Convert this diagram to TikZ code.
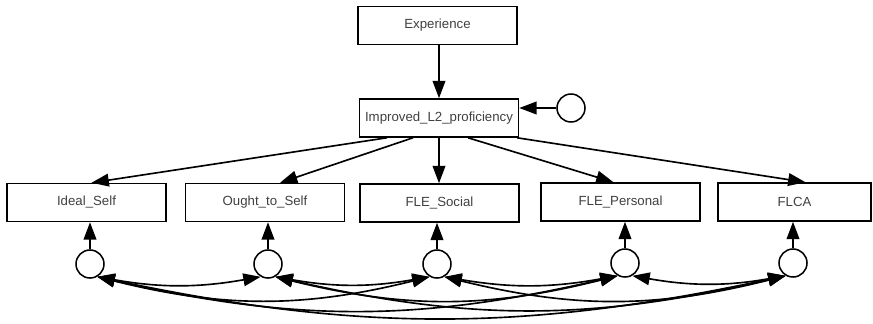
\documentclass[tikz,border=0pt]{standalone}
\usepackage{fontspec}
\setmainfont{Liberation Sans}
\usetikzlibrary{arrows.meta,calc}

\begin{document}
\begin{tikzpicture}[x=0.03cm, y=-0.03cm, >={Triangle[length=0.52cm,width=0.38cm]}, line width=1.4pt,
    var/.style={draw, line width=1.3pt, minimum width=4.77cm, minimum height=1.14cm,
        text=black!75, font=\fontsize{11.3}{13}\selectfont},
    err/.style={draw, circle, line width=1.3pt, minimum size=0.84cm, inner sep=0pt}]
    \useasboundingbox (0,0) rectangle (873,323);

    % observed variables
    \node[var] (exp) at (437.5,25.5) {Experience};
    \node[var] (imp) at (439,118) {Improved\_L2\_proficiency};
    \node[var] (ideal) at (86.5,202.5) {Ideal\_Self};
    \node[var] (ought) at (265,202.5) {Ought\_to\_Self};
    \node[var] (social) at (439.5,203) {FLE\_Social};
    \node[var] (personal) at (620.5,202) {FLE\_Personal};
    \node[var, minimum width=4.6cm] (flca) at (794.5,202) {FLCA};

    % error terms
    \node[err] (eimp) at (571,108) {};
    \node[err] (e1) at (90,264) {};
    \node[err] (e2) at (268,264) {};
    \node[err] (e3) at (437,264) {};
    \node[err] (e4) at (625,263) {};
    \node[err] (e5) at (793,263) {};

    % paths
    \draw[->] (imp |- exp.south) -- (imp.north);
    \draw[->] (eimp) -- (eimp -| imp.east);
    \draw[->] ($(imp.south)+(-52,0)$) -- ($(ideal.north)+(5,0)$);
    \draw[->] ($(imp.south)+(-26,0)$) -- ($(ought.north)+(15,0)$);
    \draw[->] (imp.south) -- (imp.south |- social.north);
    \draw[->] ($(imp.south)+(29,0)$) -- ($(personal.north)+(-7,0)$);
    \draw[->] ($(imp.south)+(78,0)$) -- ($(flca.north)+(11,0)$);
    \foreach \e/\v in {e1/ideal, e2/ought, e3/social, e4/personal, e5/flca}
        \draw[->] (\e) -- (\e |- \v.south);

    % covariances
    \foreach \a/\b/\bend in {e1/e2/10, e1/e3/14, e1/e4/13, e1/e5/12, e2/e3/10,
                             e2/e4/14, e2/e5/13, e3/e4/10, e3/e5/14, e4/e5/10}
        \draw[<->] (\a.-60) to[bend right=\bend] (\b.-120);
\end{tikzpicture}
\end{document}
